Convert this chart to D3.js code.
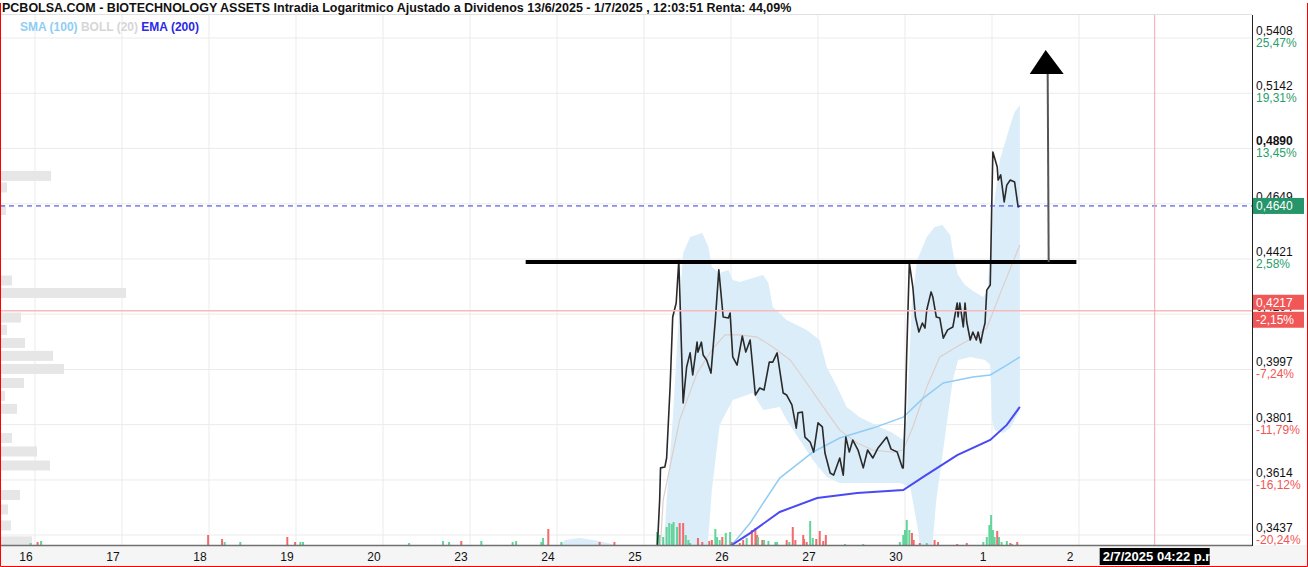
<!DOCTYPE html>
<html>
<head>
<meta charset="utf-8">
<script src="https://cdnjs.cloudflare.com/ajax/libs/d3/7.8.5/d3.min.js"></script>
<style>
body { margin: 0; background: #fff; }
svg { display: block; font-family: "Liberation Sans", Arial, sans-serif; }
</style>
</head>
<body>
<svg id="chart" width="1308" height="567"></svg>
<script>
// sessions on the time axis, t = session index (+ fraction of the session)
var dayLabels = ["16", "17", "18", "19", "20", "23", "24", "25", "26", "27", "30", "1", "2"];

// price axis ticks (log) and their % vs. the reference price
var yTicks = [0.3437, 0.3614, 0.3801, 0.3997, 0.4204, 0.4421, 0.4649, 0.4890, 0.5142, 0.5408];
var yTickPct = ["-20,24%", "-16,12%", "-11,79%", "-7,24%", "-2,45%", "2,58%", "7,89%", "13,45%", "19,31%", "25,47%"];

var lastPrice = 0.4640;
var refPrice = 0.4217;
var refPct = "-2,15%";

// intraday close [t, price]
var priceSeries = [
  [7.15, 0.3380], [7.18, 0.3548], [7.19, 0.3654], [7.24, 0.3657], [7.26, 0.3687], [7.30, 0.3934],
  [7.33, 0.4193], [7.37, 0.4247], [7.40, 0.4415], [7.45, 0.3877], [7.49, 0.4006], [7.53, 0.4058],
  [7.56, 0.3977], [7.61, 0.4098], [7.62, 0.4061], [7.66, 0.4098], [7.68, 0.4050], [7.72, 0.4032],
  [7.77, 0.3984], [7.82, 0.4182], [7.86, 0.4377], [7.91, 0.4193], [7.97, 0.4189], [7.99, 0.4208],
  [8.02, 0.4043], [8.07, 0.4013], [8.13, 0.4121], [8.17, 0.4061], [8.22, 0.4106], [8.28, 0.3905],
  [8.33, 0.3930], [8.38, 0.3923], [8.44, 0.4024], [8.48, 0.4024], [8.53, 0.4058], [8.60, 0.3912],
  [8.64, 0.3905], [8.70, 0.3870], [8.75, 0.3789], [8.77, 0.3842], [8.82, 0.3845], [8.85, 0.3758],
  [8.91, 0.3741], [8.95, 0.3707], [9.00, 0.3807], [9.05, 0.3793], [9.08, 0.3704], [9.14, 0.3637],
  [9.18, 0.3630], [9.25, 0.3687], [9.29, 0.3630], [9.32, 0.3758], [9.36, 0.3707], [9.40, 0.3748],
  [9.46, 0.3714], [9.52, 0.3654], [9.57, 0.3714], [9.63, 0.3687], [9.69, 0.3721], [9.79, 0.3758],
  [9.84, 0.3717], [9.91, 0.3707], [9.97, 0.3654], [9.98, 0.3654], [10.00, 0.3817], [10.02, 0.4058],
  [10.05, 0.4405], [10.09, 0.4309], [10.12, 0.4193], [10.16, 0.4136], [10.20, 0.4170], [10.23, 0.4151],
  [10.25, 0.4220], [10.30, 0.4290], [10.32, 0.4270], [10.36, 0.4193], [10.40, 0.4189], [10.44, 0.4113],
  [10.49, 0.4144], [10.55, 0.4155], [10.60, 0.4247], [10.61, 0.4193], [10.63, 0.4247], [10.67, 0.4155],
  [10.69, 0.4247], [10.71, 0.4174], [10.75, 0.4106], [10.78, 0.4136], [10.82, 0.4106], [10.84, 0.4136],
  [10.87, 0.4095], [10.90, 0.4144], [10.92, 0.4170], [10.94, 0.4297], [10.98, 0.4317], [11.00, 0.4699],
  [11.01, 0.4874], [11.06, 0.4808], [11.07, 0.4751], [11.10, 0.4773], [11.14, 0.4657], [11.17, 0.4729],
  [11.21, 0.4751], [11.26, 0.4742], [11.30, 0.4636], [11.32, 0.4640]
];

// SMA (100)
var smaSeries = [
  [7.87, 0.3375], [8.01, 0.3406], [8.22, 0.3475], [8.56, 0.3620], [8.94, 0.3707], [9.25, 0.3755],
  [9.63, 0.3789], [9.98, 0.3827], [10.21, 0.3894], [10.44, 0.3948], [10.78, 0.3970], [10.98, 0.3977],
  [11.17, 0.4013], [11.32, 0.4043]
];

// EMA (200)
var emaSeries = [
  [7.87, 0.3375], [8.01, 0.3406], [8.22, 0.3443], [8.56, 0.3510], [8.99, 0.3555], [9.45, 0.3571],
  [9.98, 0.3581], [10.21, 0.3624], [10.60, 0.3697], [10.98, 0.3748], [11.17, 0.3800], [11.32, 0.3863]
];

// BOLL (20) middle line
var bollMid = [
  [7.18, 0.3360], [7.22, 0.3548], [7.41, 0.3817], [7.61, 0.3984], [7.78, 0.4069], [7.93, 0.4125],
  [8.10, 0.4125], [8.30, 0.4117], [8.48, 0.4080], [8.68, 0.4032], [8.87, 0.3948], [9.06, 0.3863],
  [9.25, 0.3782], [9.45, 0.3738], [9.63, 0.3714], [9.86, 0.3707], [9.98, 0.3714], [10.09, 0.3793],
  [10.25, 0.3934], [10.40, 0.4043], [10.63, 0.4087], [10.80, 0.4117], [10.94, 0.4151], [11.11, 0.4297],
  [11.32, 0.4478]
];

// BOLL (20) upper band
var bollUpper = [
  [5.92, 0.3360], [6.09, 0.3421], [6.26, 0.3428], [6.49, 0.3418], [6.67, 0.3406], [6.95, 0.3400],
  [7.18, 0.3390], [7.23, 0.3406], [7.26, 0.3548], [7.33, 0.3817], [7.39, 0.4144], [7.45, 0.4445],
  [7.53, 0.4510], [7.67, 0.4527], [7.74, 0.4470], [7.78, 0.4389], [7.87, 0.4365], [7.97, 0.4377],
  [8.02, 0.4337], [8.10, 0.4329], [8.25, 0.4345], [8.37, 0.4357], [8.43, 0.4325], [8.48, 0.4231],
  [8.64, 0.4182], [8.87, 0.4144], [9.02, 0.4106], [9.10, 0.4006], [9.22, 0.3934], [9.33, 0.3863],
  [9.48, 0.3827], [9.71, 0.3793], [9.86, 0.3772], [9.98, 0.3748], [10.02, 0.3817], [10.08, 0.4258],
  [10.14, 0.4417], [10.25, 0.4510], [10.34, 0.4552], [10.43, 0.4560], [10.52, 0.4519], [10.57, 0.4409],
  [10.61, 0.4357], [10.69, 0.4317], [10.80, 0.4290], [10.90, 0.4270], [10.95, 0.4297], [11.00, 0.4581],
  [11.09, 0.4839], [11.21, 0.4995], [11.26, 0.5055], [11.32, 0.5087]
];

// BOLL (20) lower band
var bollLower = [
  [5.92, 0.3329], [7.64, 0.3329], [7.72, 0.3360], [7.78, 0.3581], [7.87, 0.3800], [8.02, 0.3887],
  [8.25, 0.3912], [8.37, 0.3852], [8.56, 0.3863], [8.64, 0.3817], [8.79, 0.3748], [8.94, 0.3680],
  [9.10, 0.3624], [9.25, 0.3604], [9.94, 0.3604], [10.06, 0.3591], [10.15, 0.3453], [10.20, 0.3329],
  [10.29, 0.3329], [10.36, 0.3548], [10.47, 0.3782], [10.55, 0.3959], [10.61, 0.4032], [10.75, 0.4043],
  [10.92, 0.4032], [10.98, 0.4013], [11.00, 0.3817], [11.03, 0.3782], [11.13, 0.3772], [11.21, 0.3789],
  [11.32, 0.3852]
];

// volume bars [t, volume, 1 = up / 0 = down]
var volumeBars = [
  [-0.05, 20, 1], [0.03, 30, 0], [0.07, 40, 1], [1.99, 100, 0], [2.15, 60, 0], [2.18, 30, 1],
  [2.36, 30, 1], [2.90, 80, 0], [2.99, 30, 0], [3.05, 30, 1], [3.08, 30, 1], [4.30, 20, 1],
  [4.69, 40, 1], [4.76, 30, 1], [4.90, 40, 0], [5.13, 40, 1], [5.49, 30, 1], [5.53, 40, 1],
  [5.82, 30, 1], [5.84, 70, 1], [5.90, 160, 0], [6.05, 30, 1], [6.49, 30, 0], [6.66, 30, 0],
  [7.15, 130, 1], [7.18, 100, 1], [7.22, 80, 1], [7.26, 180, 1], [7.29, 220, 1], [7.32, 210, 1],
  [7.34, 230, 1], [7.38, 180, 1], [7.41, 220, 0], [7.45, 220, 0], [7.48, 100, 1], [7.51, 50, 1],
  [7.53, 20, 1], [7.62, 70, 0], [7.67, 30, 0], [7.75, 40, 0], [7.78, 50, 0], [7.82, 160, 1],
  [7.84, 80, 1], [7.87, 50, 1], [7.90, 80, 0], [7.94, 120, 1], [7.99, 130, 1], [8.01, 30, 0],
  [8.10, 20, 0], [8.14, 50, 0], [8.18, 70, 1], [8.24, 150, 0], [8.28, 170, 0], [8.30, 100, 0],
  [8.31, 80, 1], [8.36, 50, 0], [8.38, 50, 1], [8.43, 40, 1], [8.51, 30, 1], [8.53, 30, 1],
  [8.64, 50, 0], [8.67, 30, 1], [8.71, 180, 0], [8.74, 50, 0], [8.83, 100, 0], [8.84, 60, 0],
  [8.87, 30, 0], [8.91, 240, 1], [8.94, 70, 1], [8.98, 60, 0], [9.02, 140, 0], [9.06, 40, 0],
  [9.09, 100, 0], [9.31, 10, 1], [9.52, 10, 1], [9.94, 30, 1], [9.98, 100, 1], [10.00, 150, 1],
  [10.02, 250, 1], [10.05, 150, 1], [10.08, 120, 0], [10.10, 50, 0], [10.17, 20, 0], [10.25, 20, 1],
  [10.34, 50, 0], [10.38, 30, 0], [10.60, 10, 0], [10.71, 20, 0], [10.90, 30, 1], [10.94, 80, 1],
  [10.97, 200, 1], [10.99, 300, 1], [11.01, 150, 1], [11.03, 80, 1], [11.06, 140, 0], [11.08, 80, 1],
  [11.11, 30, 1], [11.17, 40, 1], [11.21, 20, 0], [11.23, 10, 1], [11.29, 30, 0]
];

// volume by price (left profile)
var profilePrice = [0.4769, 0.4719, 0.4623, 0.4335, 0.4286, 0.4191, 0.4144, 0.4095, 0.4047, 0.3999,
  0.3948, 0.3902, 0.3856, 0.3755, 0.3709, 0.3662, 0.3565, 0.3518, 0.3467, 0.3417];
var profileVol = [510, 70, 60, 120, 1260, 210, 70, 250, 530, 640,
  240, 50, 170, 120, 370, 500, 200, 80, 110, 320];

// drawn annotations: resistance [t0, t1, price] and target arrow [t, fromPrice, toPrice, tipPrice]
var resistance = [5.64, 11.97, 0.4409];
var targetArrow = [11.64, 0.4409, 0.5233, 0.5349];
var cursorT = 12.87;
var cursorLabel = "2/7/2025 04:22 p.m.";

var plotLeft = 0, plotRight = 1252, plotTop = 15, plotBottom = 545;

var svg = d3.select("#chart");

var x = d3.scaleLinear().domain([0, 13]).range([35, 35 + 87 * 13]);
var y = d3.scaleLog().domain([0.3437, 0.5408]).range([535, 38]);
var volY = d3.scaleLinear().domain([0, 400]).range([plotBottom, plotBottom - 40]);
var profX = d3.scaleLinear().domain([0, d3.max(profileVol)]).range([0, 126]);

var fmt = function (v) { return d3.format(".4f")(v).replace(".", ","); };

svg.append("defs").append("clipPath").attr("id", "plotClip")
    .append("rect")
    .attr("x", plotLeft).attr("y", plotTop)
    .attr("width", plotRight - plotLeft).attr("height", plotBottom - plotTop);

// bottom strip
svg.append("rect")
    .attr("x", 0).attr("y", plotBottom).attr("width", 1308).attr("height", 567 - plotBottom)
    .attr("fill", "#f5f5f5");

var plot = svg.append("g").attr("clip-path", "url(#plotClip)");

// grid
plot.selectAll(".vgrid").data(dayLabels).enter().append("line")
    .attr("x1", function (d, i) { return x(i); })
    .attr("x2", function (d, i) { return x(i); })
    .attr("y1", plotTop).attr("y2", plotBottom)
    .attr("stroke", "#ebebeb").attr("stroke-width", 1);

plot.selectAll(".hgrid").data(yTicks).enter().append("line")
    .attr("x1", plotLeft).attr("x2", plotRight)
    .attr("y1", function (d) { return y(d); })
    .attr("y2", function (d) { return y(d); })
    .attr("stroke", "#ebebeb").attr("stroke-width", 1);

// volume profile
plot.selectAll(".prof").data(profileVol).enter().append("rect")
    .attr("x", 0)
    .attr("y", function (d, i) { return y(profilePrice[i]) - 5; })
    .attr("width", function (d) { return profX(d); })
    .attr("height", 10)
    .attr("fill", "#e6e6e6");

// bollinger band
var line = d3.line()
    .x(function (d) { return x(d[0]); })
    .y(function (d) { return y(d[1]); });

plot.append("path")
    .attr("d", line.curve(d3.curveLinearClosed)(bollUpper.concat(bollLower.slice().reverse())))
    .attr("fill", "#dcedfa")
    .attr("stroke", "none");
line.curve(d3.curveLinear);

// volume bars
plot.selectAll(".vol").data(volumeBars).enter().append("rect")
    .attr("x", function (d) { return x(d[0]) - 1; })
    .attr("y", function (d) { return volY(d[1]); })
    .attr("width", 2)
    .attr("height", function (d) { return plotBottom - volY(d[1]); })
    .attr("fill", function (d) { return d[2] ? "#62d39a" : "#f46a6a"; });

plot.append("path").attr("d", line(bollMid))
    .attr("fill", "none").attr("stroke", "#dccfcb").attr("stroke-width", 1.2);

plot.append("path").attr("d", line(smaSeries))
    .attr("fill", "none").attr("stroke", "#8fcdf5").attr("stroke-width", 1.5);

plot.append("path").attr("d", line(emaSeries))
    .attr("fill", "none").attr("stroke", "#4a4af2").attr("stroke-width", 2);

plot.append("path").attr("d", line(priceSeries))
    .attr("fill", "none").attr("stroke", "#2a2a2a").attr("stroke-width", 1.6)
    .attr("stroke-linejoin", "round");

// reference and last price lines
plot.append("line")
    .attr("x1", plotLeft).attr("x2", plotRight)
    .attr("y1", y(refPrice)).attr("y2", y(refPrice))
    .attr("stroke", "#f7b9b9").attr("stroke-width", 1.5);

plot.append("line")
    .attr("x1", plotLeft).attr("x2", plotRight)
    .attr("y1", y(lastPrice)).attr("y2", y(lastPrice))
    .attr("stroke", "#3535e0").attr("stroke-width", 1)
    .attr("stroke-dasharray", "5,4");

// cursor line
svg.append("line")
    .attr("x1", x(cursorT)).attr("x2", x(cursorT))
    .attr("y1", plotTop).attr("y2", plotBottom)
    .attr("stroke", "#f2a8a8").attr("stroke-width", 1);

// resistance line + target arrow
svg.append("line")
    .attr("x1", x(resistance[0])).attr("x2", x(resistance[1]))
    .attr("y1", y(resistance[2])).attr("y2", y(resistance[2]))
    .attr("stroke", "#000").attr("stroke-width", 4);

svg.append("line")
    .attr("x1", x(targetArrow[0]) + 1).attr("x2", x(targetArrow[0]))
    .attr("y1", y(targetArrow[1])).attr("y2", y(targetArrow[2]))
    .attr("stroke", "#555").attr("stroke-width", 2);

svg.append("path")
    .attr("d", "M" + (x(targetArrow[0]) - 2) + "," + y(targetArrow[3]) +
        "L" + (x(targetArrow[0]) + 16) + "," + y(targetArrow[2]) +
        "L" + (x(targetArrow[0]) - 18) + "," + y(targetArrow[2]) + "Z")
    .attr("fill", "#000");

// axes lines
svg.append("line")
    .attr("x1", plotLeft).attr("x2", plotRight)
    .attr("y1", plotBottom + 0.5).attr("y2", plotBottom + 0.5)
    .attr("stroke", "#707070").attr("stroke-width", 1.5);

svg.append("line")
    .attr("x1", plotRight + 0.5).attr("x2", plotRight + 0.5)
    .attr("y1", plotTop).attr("y2", plotBottom + 1)
    .attr("stroke", "#222").attr("stroke-width", 1);

svg.append("line")
    .attr("x1", 0).attr("x2", plotRight)
    .attr("y1", plotTop - 0.5).attr("y2", plotTop - 0.5)
    .attr("stroke", "#e0e0e0").attr("stroke-width", 1);

// x labels
svg.selectAll(".xlab").data(dayLabels).enter().append("text")
    .attr("x", function (d, i) { return x(i) - 9; })
    .attr("y", 561)
    .attr("text-anchor", "middle")
    .style("font-size", "12px")
    .style("fill", "#111")
    .text(function (d) { return d; });

// cursor date box
var cx = x(cursorT);
svg.append("clipPath").attr("id", "dateClip")
    .append("rect").attr("x", cx - 55).attr("y", 548).attr("width", 110).attr("height", 17);
svg.append("rect")
    .attr("x", cx - 55).attr("y", 548).attr("width", 110).attr("height", 17)
    .attr("fill", "#000");
svg.append("text")
    .attr("clip-path", "url(#dateClip)")
    .attr("x", cx - 52).attr("y", 561)
    .style("font-size", "13px").style("font-weight", "bold")
    .style("fill", "#fff")
    .text(cursorLabel);

// y labels
var ylab = svg.selectAll(".ylab").data(yTicks).enter().append("g");
ylab.append("text")
    .attr("x", 1256)
    .attr("y", function (d) { return y(d) - 3; })
    .style("font-size", "12px")
    .style("font-weight", function (d) { return d === 0.4890 ? "bold" : "normal"; })
    .style("fill", "#111")
    .text(function (d) { return fmt(d); });
ylab.append("text")
    .attr("x", 1256)
    .attr("y", function (d) { return y(d) + 9; })
    .style("font-size", "12px")
    .style("fill", function (d, i) { return yTickPct[i].charAt(0) === "-" ? "#f25555" : "#2a9d6c"; })
    .text(function (d, i) { return yTickPct[i]; });

// last price box
svg.append("rect")
    .attr("x", 1253).attr("y", y(lastPrice) - 8).attr("width", 51).attr("height", 16)
    .attr("fill", "#27956a");
svg.append("text")
    .attr("x", 1256).attr("y", y(lastPrice) + 4)
    .style("font-size", "12px").style("fill", "#fff")
    .text(fmt(lastPrice));

// reference price boxes
svg.append("rect")
    .attr("x", 1253).attr("y", y(refPrice) - 16).attr("width", 51).attr("height", 15)
    .attr("fill", "#f25757");
svg.append("text")
    .attr("x", 1256).attr("y", y(refPrice) - 4)
    .style("font-size", "12px").style("fill", "#fff")
    .text(fmt(refPrice));
svg.append("rect")
    .attr("x", 1253).attr("y", y(refPrice) + 1).attr("width", 51).attr("height", 16)
    .attr("fill", "#f25757");
svg.append("text")
    .attr("x", 1256).attr("y", y(refPrice) + 13)
    .style("font-size", "12px").style("fill", "#fff")
    .text(refPct);

// title
var title = svg.append("text")
    .attr("x", 2).attr("y", 12)
    .style("font-size", "12.5px")
    .style("font-weight", "bold")
    .style("fill", "#111");
title.append("tspan").text("PCBOLSA.COM - BIOTECHNOLOGY ASSETS ");
title.append("tspan").text("Intradia Logaritmico Ajustado a Dividenos 13/6/2025 - 1/7/2025 , 12:03:51 Renta: 44,09%");

// legend
var legend = svg.append("text")
    .attr("x", 20).attr("y", 31)
    .style("font-size", "12px")
    .style("font-weight", "bold");
legend.append("tspan").style("fill", "#8fcdf5").text("SMA (100) ");
legend.append("tspan").style("fill", "#d6d6d6").text("BOLL (20) ");
legend.append("tspan").style("fill", "#2a2ae6").text("EMA (200)");

// frame
svg.append("path")
    .attr("d", "M0.5,3 L0.5,566.5 L1307.5,566.5 L1307.5,3")
    .attr("fill", "none").attr("stroke", "#ff0000").attr("stroke-width", 1);
</script>
</body>
</html>
